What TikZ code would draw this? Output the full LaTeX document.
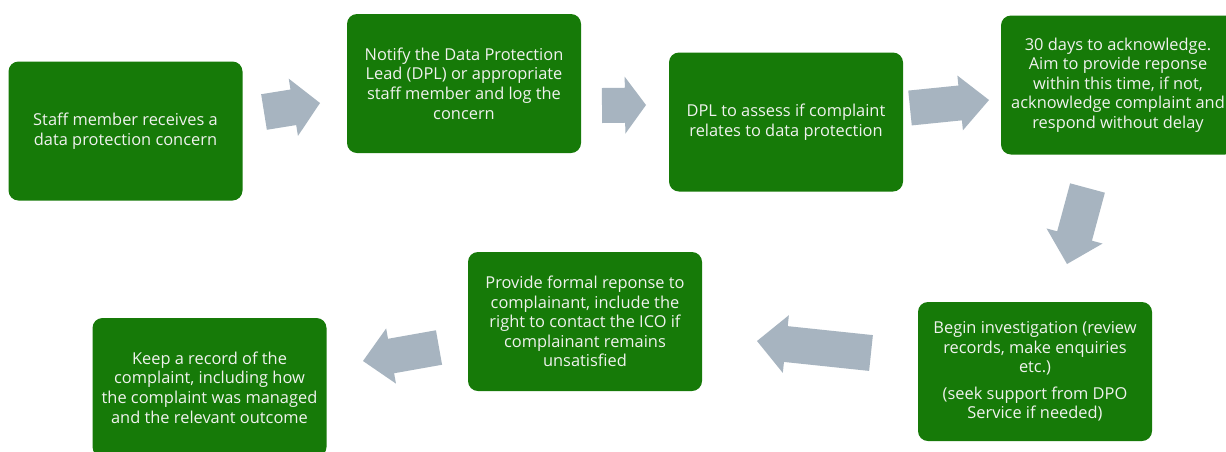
\documentclass[tikz,border=0pt]{standalone}
\usepackage{fontspec}
\setmainfont{Open Sans}
\usetikzlibrary{calc}
\definecolor{boxgreen}{RGB}{22,122,8}
\definecolor{boxtext}{RGB}{240,242,238}
\definecolor{arrowgrey}{RGB}{167,180,192}
\tikzset{
  box/.style={rectangle, rounded corners=10pt, fill=boxgreen, text=boxtext,
    minimum width=234pt, minimum height=139pt, align=center, inner sep=0pt,
    font=\fontsize{16.4}{19.6}\selectfont},
  blockarrow/.style={fill=arrowgrey, draw=none}
}
% #1 tail, #2 tip, #3 shaft half width, #4 head half width, #5 head length
\newcommand\myblkarrow[5]{%
  \path coordinate (hb) at ($(#2)!#5!(#1)$);
  \fill[blockarrow]
    ($(#1)!#3!90:(#2)$) -- ($(hb)!#3!90:(#2)$) -- ($(hb)!#4!90:(#2)$) --
    (#2) -- ($(hb)!#4!-90:(#2)$) -- ($(hb)!#3!-90:(#2)$) -- ($(#1)!#3!-90:(#2)$) -- cycle;
}
\begin{document}
\begin{tikzpicture}[x=1pt,y=-1pt]
\useasboundingbox (0,0) rectangle (1226,451);
\clip (0,0) rectangle (1226,451);
\fill[white] (0,0) rectangle (1226,451);

\node[box] (b1) at (125.5,131) {Staff member receives a\\data protection concern};
\node[box] (b2) at (464,83.5) {Notify the Data Protection\\Lead (DPL) or appropriate\\staff member and log the\\concern};
\node[box] (b3) at (786,122) {DPL to assess if complaint\\relates to data protection};
\node[box] (b4) at (1118,85) {30 days to acknowledge.\\Aim to provide reponse\\within this time, if not,\\acknowledge complaint and\\respond without delay};
\node[box] (b5) at (1035,371.5) {Begin investigation (review\\records, make enquiries\\etc.)\\[7pt](seek support from DPO\\Service if needed)};
\node[box] (b6) at (585,321.5) {Provide formal reponse to\\complainant, include the\\right to contact the ICO if\\complainant remains\\unsatisfied};
\node[box] (b7) at (209.5,387.5) {Keep a record of the\\complaint, including how\\the complaint was managed\\and the relevant outcome};

\coordinate (a1t) at (264,112);   \coordinate (a1p) at (320,103);
\coordinate (a2t) at (602,105.5); \coordinate (a2p) at (646,105);
\coordinate (a3t) at (910,108);   \coordinate (a3p) at (989,100);
\coordinate (a4t) at (1087.5,188);\coordinate (a4p) at (1067,264);
\coordinate (a5t) at (871,353);   \coordinate (a5p) at (757,341);
\coordinate (a6t) at (439,347.5); \coordinate (a6p) at (363,361);

\myblkarrow{a1t}{a1p}{18pt}{29pt}{27pt}
\myblkarrow{a2t}{a2p}{17.5pt}{28.5pt}{21pt}
\myblkarrow{a3t}{a3p}{17.5pt}{27.5pt}{29pt}
\myblkarrow{a4t}{a4p}{18pt}{29pt}{29pt}
\myblkarrow{a5t}{a5p}{18pt}{29pt}{29pt}
\myblkarrow{a6t}{a6p}{17.5pt}{28pt}{28.5pt}
\end{tikzpicture}
\end{document}
